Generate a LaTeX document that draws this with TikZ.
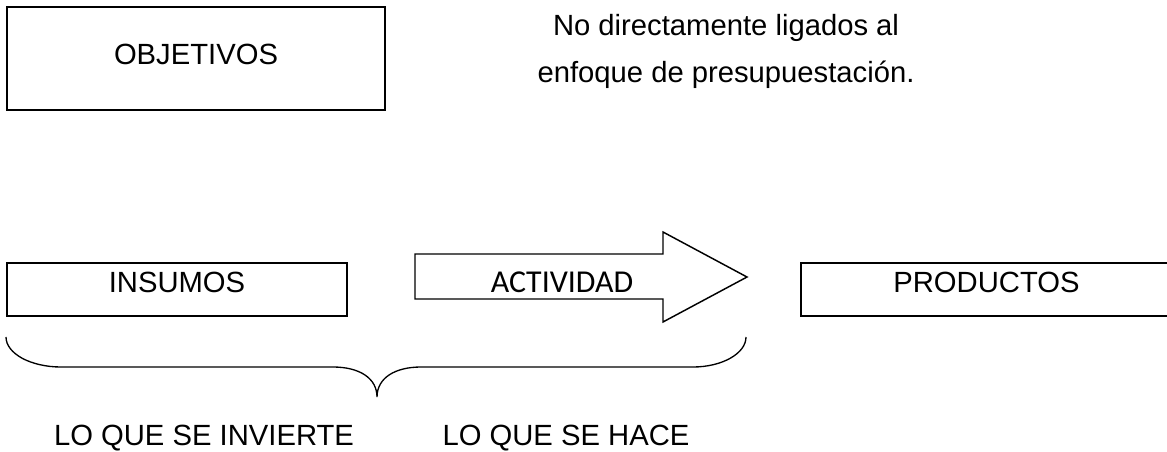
\documentclass[tikz,border=0pt]{standalone}
\usepackage{fontspec}
\setmainfont{Liberation Sans}
\newfontfamily\actfont{Carlito}
\usetikzlibrary{positioning}

\tikzset{
	caja/.style={draw, line width=1.8pt, inner sep=0pt, text height=15.75pt,
		font=\fontsize{22pt}{26pt}\selectfont},
	rotulo/.style={inner sep=0pt, anchor=base, font=\fontsize{22pt}{26pt}\selectfont}
}

\begin{document}
\begin{tikzpicture}
	\path[use as bounding box, clip] (0,0) rectangle (30.877,-11.959);

	\node[caja, minimum width=10cm, minimum height=2.725cm, text depth=6pt] (obj) at (5.186,-1.548) {OBJETIVOS};
	\node[rotulo] (nota1) at (19.21,-0.952) {No directamente ligados al};
	\node[rotulo] (nota2) at (19.21,-2.170) {enfoque de presupuestación.};

	\node[caja, minimum width=8.996cm, minimum height=1.402cm, text depth=12pt] (ins) at (4.683,-7.66) {INSUMOS};
	\node[caja, minimum width=9.816cm, minimum height=1.41cm, text depth=12pt] (prod) at (26.10,-7.66) {PRODUCTOS};

	% flecha
	\coordinate (A) at (10.98,-6.72);
	\coordinate (B) at (17.542,-6.72);
	\coordinate (T) at (19.764,-7.329); % punta
	\draw[line width=1.1pt] (A)--(B)--(17.542,-6.138)--(T)--(17.542,-8.519)--(17.542,-7.911)--(10.98,-7.911)--cycle;
	\node[rotulo, font=\actfont\fontsize{24pt}{28pt}\selectfont] (act) at (14.87,-7.726) {ACTIVIDAD};

	% llave
	\coordinate (L) at (0.159,-8.916);
	\coordinate (M) at (9.975,-10.504);
	\coordinate (R) at (19.738,-8.916);
	\draw[line width=1pt] (L) .. controls (0.159,-9.354) and (0.811,-9.71) .. (1.614,-9.71)
		-- (8.81,-9.71) .. controls (9.5,-9.71) and (9.975,-10.0) .. (M)
		.. controls (9.975,-10.0) and (10.45,-9.71) .. (11.14,-9.71)
		-- (18.335,-9.71) .. controls (19.1,-9.71) and (19.738,-9.354) .. (R);

	\node[rotulo] (inv) at (5.397,-11.80) {LO QUE SE INVIERTE};
	\node[rotulo] (hace) at (14.975,-11.80) {LO QUE SE HACE};
\end{tikzpicture}
\end{document}
